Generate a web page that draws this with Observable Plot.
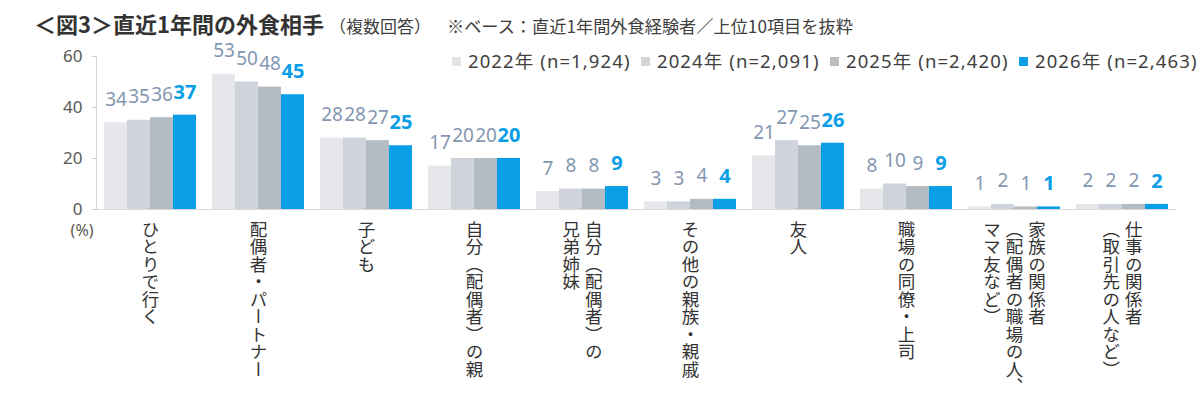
<!DOCTYPE html>
<html><head><meta charset="utf-8">
<script src="https://cdn.jsdelivr.net/npm/d3@7"></script>
<script src="https://cdn.jsdelivr.net/npm/@observablehq/plot@0.6"></script>
<style>
body{margin:0;background:#fff;}
#wrap{position:relative;width:1200px;height:410px;font-family:"Noto Sans","Noto Sans CJK JP",sans-serif;color:#404040;}
#title{position:absolute;left:34px;top:6px;white-space:nowrap;line-height:34px;}
#title .t1{font-family:"Noto Sans CJK JP",sans-serif;font-weight:bold;font-size:22px;color:#333;}
#title .t2{font-family:"Noto Sans CJK JP",sans-serif;font-size:17px;margin-left:5px;color:#404040;}
#title .t3{font-family:"Noto Sans CJK JP",sans-serif;font-size:17.2px;margin-left:16px;color:#404040;}
#legend{position:absolute;left:452px;top:47px;display:flex;white-space:nowrap;}
#legend .item{display:flex;align-items:center;width:189px;}
#legend .sw{width:9px;height:9px;margin-right:7px;}
#legend .lab{font-size:18.5px;letter-spacing:1.1px;color:#404040;line-height:28px;}
#chart{position:absolute;left:0;top:40px;}
</style></head><body>
<div id="wrap">
  <div id="title"><span class="t1">＜図3＞直近1年間の外食相手</span><span class="t2">（複数回答）</span><span class="t3">※ベース：直近1年間外食経験者／上位10項目を抜粋</span></div>
  <div id="chart"></div>
  <div id="legend"></div>
</div>
<script>
const categories = [
  "ひとりで行く",
  "配偶者・パートナー",
  "子ども",
  "自分（配偶者）の親",
  "自分（配偶者）の\n兄弟姉妹",
  "その他の親族・親戚",
  "友人",
  "職場の同僚・上司",
  "家族の関係者\n（配偶者の職場の人、\nママ友など）",
  "仕事の関係者\n（取引先の人など）"
];
const yearKeys = ["2022", "2024", "2025", "2026"];
const legendLabels = ["2022年 (n=1,924)", "2024年 (n=2,091)", "2025年 (n=2,420)", "2026年 (n=2,463)"];
const v2022 = [34, 53, 28, 17, 7, 3, 21, 8, 1, 2];
const v2024 = [35, 50, 28, 20, 8, 3, 27, 10, 2, 2];
const v2025 = [36, 48, 27, 20, 8, 4, 25, 9, 1, 2];
const v2026 = [37, 45, 25, 20, 9, 4, 26, 9, 1, 2];
const yTicks = [0, 20, 40, 60];
const barColors = ["#E6E6EB", "#CFD4DC", "#B4BCC3", "#0A9EE6"];
const legendColors = ["#E3E3E3", "#D6D6D6", "#BDBDBD", "#0A9EE6"];

const series = [v2022, v2024, v2025, v2026];
const rows = categories.flatMap((c, i) => yearKeys.map((y, k) => ({cat: c, year: y, value: series[k][i]})));
const labelRows = categories.flatMap(c => {
  const cols = c.split("\n");
  const n = cols.length;
  return cols.map((t, j) => ({cat: c, text: t, off: (n - 1) / 2 - j}));
});
const offs = [...new Set(labelRows.map(d => d.off))];

const font = '"Noto Sans","Noto Sans CJK JP",sans-serif';
const chart = Plot.plot({
  width: 1200, height: 370,
  marginLeft: 93, marginRight: 22, marginTop: 16, marginBottom: 201,
  style: {fontFamily: font, background: "transparent", overflow: "visible"},
  fx: {domain: categories, padding: 0, axis: null, label: null},
  x: {domain: yearKeys, paddingInner: 0, paddingOuter: 0.33, axis: null, label: null},
  y: {domain: [0, 60], axis: null, label: null},
  color: {domain: yearKeys, range: barColors},
  marks: [
    Plot.axisY({ticks: yTicks, tickSize: 4, tickPadding: 10, fontSize: 17, fill: "#595959", stroke: "#cfcfcf", label: null}),
    Plot.frame({anchor: "left", facetAnchor: "left", stroke: "#d4d4d4"}),
    Plot.barY(rows, {fx: "cat", x: "year", y: "value", fill: "year"}),
    Plot.ruleY([0], {stroke: "#d9d9d9", strokeWidth: 1.2}),
    Plot.text(rows.filter(d => d.year !== "2026"), {fx: "cat", x: "year", y: "value", text: d => String(d.value), dy: -23, fill: "#8497B0", fontSize: 19}),
    Plot.text(rows.filter(d => d.year === "2026"), {fx: "cat", x: "year", y: "value", text: d => String(d.value), dy: -23, fill: "#0A9EE6", fontSize: 20, fontWeight: "bold"}),
    ...offs.map(o => Plot.text(labelRows.filter(d => d.off === o), {
      fx: "cat", text: "text", frameAnchor: "bottom", dx: o * 22.5, dy: 11,
      fontSize: 17.5, fill: "#333", ariaLabel: () => "xlabel"
    })),
    Plot.text(["(%)"], {frameAnchor: "bottom-left", textAnchor: "end", dx: -3, dy: 26, facetAnchor: "left", fontSize: 16, fill: "#595959"})
  ]
});
document.getElementById("chart").appendChild(chart);

d3.select(chart).selectAll('text[aria-label="xlabel"]')
  .attr("writing-mode", "vertical-rl")
  .style("writing-mode", "vertical-rl")
  .attr("text-anchor", "start")
  .style("text-anchor", "start")
  .attr("y", null)
  .style("font-family", '"Noto Sans CJK JP",sans-serif');

const legend = d3.select("#legend");
legendLabels.forEach((l, i) => {
  const it = legend.append("div").attr("class", "item");
  it.append("div").attr("class", "sw").style("background", legendColors[i]);
  it.append("div").attr("class", "lab").text(l);
});
</script>
</body></html>
